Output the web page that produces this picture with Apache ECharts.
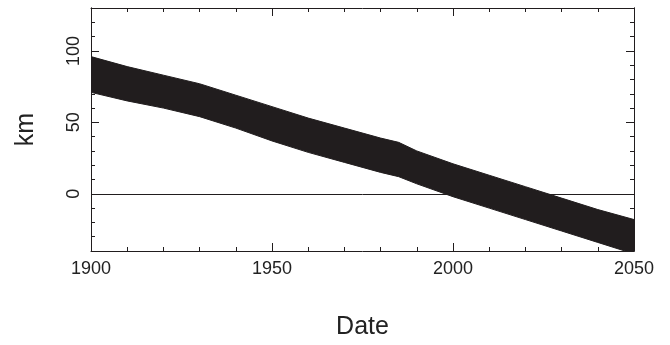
<!DOCTYPE html>
<html>
<head>
<meta charset="utf-8">
<script src="https://cdn.jsdelivr.net/npm/echarts@6/dist/echarts.min.js"></script>
<style>
  html, body { margin: 0; padding: 0; background: #fff; }
  #chart { width: 670px; height: 345px; }
</style>
</head>
<body>
<div id="chart"></div>
<script>
// band edges (km), the signal oscillates between them
const years = [1900, 1910, 1920, 1930, 1940, 1950, 1960, 1970, 1980, 1985, 1990, 2000, 2010, 2020, 2030, 2040, 2050];
const upperKm = [96, 89, 83, 77, 69, 61, 53, 46, 39, 36, 30, 21, 13, 5, -3, -11, -18];
const lowerKm = [71, 65, 60, 54, 46, 37, 29, 22, 15, 12, 7, -2, -10, -18, -26, -34, -42];
const xTicks = [1900, 1950, 2000, 2050];
const yTicks = [0, 50, 100];

const ink = '#211d1e';
const font = 'Liberation Sans';

var chart = echarts.init(document.getElementById('chart'), null, {renderer: 'canvas'});

var bandRows = years.map((y, i) => [y, upperKm[i], lowerKm[i]]);

function yAxisBase(pos) {
    return {
        type: 'value', position: pos, min: -40, max: 130,
        axisLine: {show: true, lineStyle: {color: ink, width: 1}},
        splitLine: {show: false}
    };
}

// one polygon: along the upper edge, back along the lower edge
function renderBand(params, api) {
    if (params.dataIndex !== 0) return null;
    var pts = [];
    for (var i = 0; i < bandRows.length; i++) pts.push(api.coord([bandRows[i][0], bandRows[i][1]]));
    for (var i = bandRows.length - 1; i >= 0; i--) pts.push(api.coord([bandRows[i][0], bandRows[i][2]]));
    var cs = params.coordSys;
    return {
        type: 'polygon',
        shape: {points: pts},
        style: {fill: ink, stroke: ink, lineWidth: 1},
        clipPath: {type: 'rect', shape: {x: cs.x, y: cs.y, width: cs.width, height: cs.height}}
    };
}

var option = {
    animation: false,
    grid: {left: 91, top: 8, width: 543, height: 243, containLabel: false},
    xAxis: [
        {
            type: 'value', position: 'bottom', min: 1900, max: 2050, interval: 50,
            name: 'Date', nameLocation: 'middle', nameGap: 64,
            nameTextStyle: {fontFamily: font, fontSize: 25, color: '#222'},
            axisLine: {show: true, onZero: false, lineStyle: {color: ink, width: 1}},
            axisTick: {inside: true, length: 8, lineStyle: {color: ink}},
            minorTick: {show: true, splitNumber: 5, length: 4, lineStyle: {color: ink}},
            axisLabel: {fontFamily: font, fontSize: 18, color: '#222', margin: 9,
                customValues: xTicks, formatter: v => String(v)},
            splitLine: {show: false}
        },
        {
            type: 'value', position: 'top', min: 1900, max: 2050, interval: 50,
            axisLine: {show: true, onZero: false, lineStyle: {color: ink, width: 1}},
            axisTick: {inside: true, length: 8, lineStyle: {color: ink}},
            minorTick: {show: true, splitNumber: 5, length: 4, lineStyle: {color: ink}},
            axisLabel: {show: false},
            splitLine: {show: false}
        }
    ],
    yAxis: [
        Object.assign(yAxisBase('left'), {
            interval: 10,
            axisTick: {inside: true, length: 4, lineStyle: {color: ink}},
            axisLabel: {show: false}
        }),
        Object.assign(yAxisBase('left'), {
            name: 'km', nameLocation: 'middle', nameGap: 52,
            nameTextStyle: {fontFamily: font, fontSize: 25, color: '#222'},
            axisTick: {inside: true, length: 8, customValues: yTicks, lineStyle: {color: ink}},
            axisLabel: {fontFamily: font, fontSize: 18, color: '#222', rotate: 90, margin: 8,
                customValues: yTicks}
        }),
        Object.assign(yAxisBase('right'), {
            interval: 10,
            axisTick: {inside: true, length: 4, lineStyle: {color: ink}},
            axisLabel: {show: false}
        }),
        Object.assign(yAxisBase('right'), {
            axisTick: {inside: true, length: 8, customValues: yTicks, lineStyle: {color: ink}},
            axisLabel: {show: false}
        })
    ],
    series: [
        {
            name: 'band', type: 'custom', renderItem: renderBand,
            data: bandRows, encode: {x: 0, y: [1, 2]}, silent: true
        },
        {
            name: 'zero', type: 'line', data: [], silent: true,
            markLine: {
                silent: true, symbol: 'none', label: {show: false},
                lineStyle: {color: ink, width: 1, type: 'solid'},
                data: [{yAxis: 0}]
            }
        }
    ]
};

chart.setOption(option);
</script>
</body>
</html>
